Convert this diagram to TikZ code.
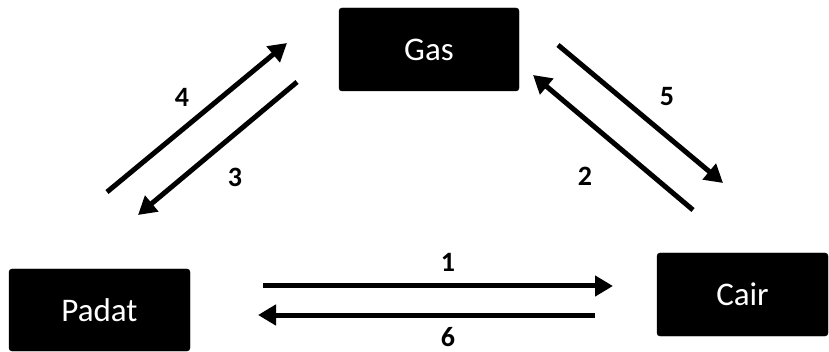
\documentclass[tikz,border=0pt]{standalone}
\usepackage{fontspec}
\setmainfont{Carlito}
\usetikzlibrary{arrows.meta}
\begin{document}
\begin{tikzpicture}[x=1pt,y=-1pt,
  phase/.style={fill=black,draw=black,rounded corners=3pt,text=white,font=\fontsize{33}{36}\selectfont,inner sep=0pt},
  num/.style={font=\fontsize{28}{30}\selectfont\bfseries,inner sep=0pt},
  conv/.style={line width=5pt,-{Triangle[length=18pt,width=20pt]}}]
\useasboundingbox (0,0) rectangle (829,352);
\node[phase,minimum width=180pt,minimum height=83pt] (gas) at (429,49.5) {Gas};
\node[phase,minimum width=181pt,minimum height=82pt] (padat) at (99.5,310) {Padat};
\node[phase,minimum width=171pt,minimum height=83pt] (cair) at (742.5,294.5) {Cair};
% arrow end points
\coordinate (a4s) at (107,192); \coordinate (a4e) at (287,43);
\coordinate (a3s) at (297,82);  \coordinate (a3e) at (138,215);
\coordinate (a5s) at (558,45);  \coordinate (a5e) at (723,183);
\coordinate (a2s) at (693,210); \coordinate (a2e) at (533,75);
\coordinate (a1s) at (263,286); \coordinate (a1e) at (613,286);
\coordinate (a6s) at (595,315); \coordinate (a6e) at (258,315);
\draw[conv] (a4s) -- (a4e);
\draw[conv] (a3s) -- (a3e);
\draw[conv] (a5s) -- (a5e);
\draw[conv] (a2s) -- (a2e);
\draw[conv] (a1s) -- (a1e);
\draw[conv] (a6s) -- (a6e);
\node[num] (l4) at (182,97) {4};
\node[num] (l3) at (235,177) {3};
\node[num] (l5) at (667,97) {5};
\node[num] (l2) at (585,176) {2};
\node[num] (l1) at (448,262) {1};
\node[num] (l6) at (448,337) {6};
\end{tikzpicture}
\end{document}
